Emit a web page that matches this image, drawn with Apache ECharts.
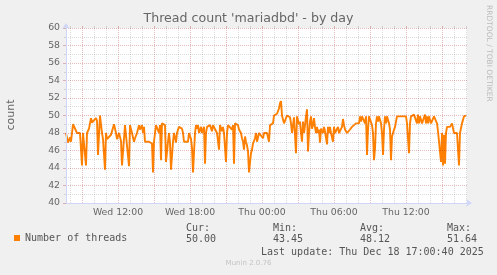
<!DOCTYPE html>
<html><head><meta charset="utf-8">
<script src="https://cdn.jsdelivr.net/npm/echarts@6/dist/echarts.min.js"></script>
<style>html,body{margin:0;padding:0;background:#f0f0f0;}#c{width:497px;height:275px;}</style>
</head><body><div id="c"></div>
<script>
const chartTitle = "Thread count 'mariadbd' - by day";
const yName = 'count';
const seriesName = 'Number of threads';
const startMinute = 460;   // Wed 07:40 as minutes after Wed 00:00
const stepMinutes = 5;     // munin sample step
const sampleSteps = [0,1,2,4,5,7,9,11,14,15,16,17,20,21,23,25,26,28,30,31,32,34,35,36,37,39,40,41,43,45,48,50,51,53,55,56,58,59,61,63,64,66,68,69,71,73,74,76,77,78,79,81,83,84,86,87,88,89,90,92,93,94,95,96,98,99,100,102,103,104,105,107,108,110,111,113,114,116,117,118,122,123,125,126,127,129,130,131,132,133,135,136,137,138,139,140,141,142,144,146,147,148,149,151,152,153,154,155,156,157,158,160,161,162,164,166,167,168,169,171,172,173,175,176,177,178,179,180,181,182,183,184,185,186,187,188,189,190,191,193,194,195,197,198,199,200,201,203,204,205,207,208,210,211,213,214,215,216,217,218,219,221,222,224,225,226,227,228,229,230,231,233,234,235,236,237,238,239,240,241,242,243,244,245,246,247,248,249,250,251,252,253,254,255,256,257,258,259,261,262,263,264,265,266,267,268,269,271,272,273,274,275,276,277,278,279,281,283,284,286,287,288,290,291,293,294,295,296,298,299,300,301,302,303,305,306,307,308,309,310,311,312,313,315,316,317,318,319,320,321,322,323,324,325,326,327,328,329,331,332,334,335,337,338,340,341,342,343,344,345,346,348,349,351,352,353,354,356,358,359,360,361,362,363,364,365,367,368,369,370,371,372,373,374,375,376,377,378,379,380,381,383,384,386,388,389,391,392,393,394,395,396,398,399,400];
const threadValues = [48.0,48.0,46.9,47.5,47.0,49.0,49.0,48.0,48.0,48.0,44.3,48.0,44.3,48.0,48.5,49.7,49.2,49.3,49.7,49.4,45.5,50.0,50.1,48.0,47.3,43.8,48.0,47.3,47.3,47.8,49.0,48.0,47.3,48.0,47.1,44.3,44.3,48.9,48.9,44.2,48.9,48.0,47.0,47.4,48.0,48.9,48.4,48.9,48.0,48.7,47.0,47.2,47.0,46.9,46.8,43.5,47.0,48.0,48.9,49.0,48.0,48.9,44.9,49.1,49.1,48.9,44.7,47.0,48.0,46.9,43.8,47.0,48.0,46.9,48.0,48.7,48.5,48.5,48.0,47.0,47.0,48.0,47.3,46.3,43.5,48.0,48.9,48.5,48.9,48.0,48.7,48.0,48.0,48.7,44.5,48.0,48.7,48.5,48.9,48.2,48.9,48.7,49.1,48.0,48.0,46.1,48.9,49.1,48.2,48.7,48.0,44.7,48.0,48.9,49.1,48.4,48.9,44.5,49.1,49.1,48.9,48.4,48.0,47.4,47.0,46.1,47.6,47.0,46.6,45.9,43.5,43.5,45.7,46.1,46.8,47.0,47.4,48.0,47.0,48.0,47.8,48.0,47.4,48.0,48.0,47.8,48.0,47.0,48.9,49.1,49.1,50.0,50.0,50.2,50.8,51.4,51.64,50.0,50.0,49.1,49.1,50.0,50.0,49.8,49.1,48.0,48.0,49.8,49.8,45.7,49.9,49.0,49.3,48.0,47.0,49.3,48.0,48.9,49.9,50.7,45.9,48.0,49.3,49.9,48.5,48.9,49.7,48.7,48.0,48.7,48.0,48.4,46.9,48.5,48.7,48.0,48.7,48.2,46.7,48.7,48.0,48.7,48.0,48.0,47.0,48.7,48.0,48.2,48.7,48.0,48.0,48.2,48.7,49.6,48.9,48.4,48.0,48.0,48.4,48.7,48.7,48.5,49.1,49.1,49.1,49.9,49.3,49.9,49.9,49.1,49.9,45.5,48.4,49.9,49.9,48.9,48.0,44.9,46.2,49.1,49.9,49.3,49.9,49.1,48.0,45.5,48.4,49.9,49.1,49.9,49.5,49.1,48.4,44.9,47.6,48.0,48.0,48.7,49.9,49.9,49.9,50.1,49.9,50.1,49.9,49.1,48.9,45.7,49.1,49.9,49.9,50.1,49.9,49.1,50.1,49.1,49.9,49.1,49.1,50.1,49.1,49.9,49.1,49.9,50.1,49.1,49.1,49.9,50.1,49.9,49.1,48.2,48.0,48.0,44.7,48.0,44.3,47.8,44.5,48.0,48.7,48.9,48.7,49.1,48.0,48.0,48.0,47.8,44.3,48.0,48.0,49.1,49.9,50.1,50.0];
const xTickMinutes = [720, 1080, 1440, 1800, 2160];
const xTickLabels = ['Wed 12:00', 'Wed 18:00', 'Thu 00:00', 'Thu 06:00', 'Thu 12:00'];
const yMin = 40, yMax = 60, yStep = 2;
const statLabels = ['Cur:', 'Min:', 'Avg:', 'Max:'];
const statValues = ['50.00', '43.45', '48.12', '51.64'];
const lastUpdate = 'Last update: Thu Dec 18 17:00:40 2025';
const footerText = 'Munin 2.0.76';
const sideText = 'RRDTOOL / TOBI OETIKER';

const xMin = startMinute, xMax = startMinute + 401 * stepMinutes;
const hourTicks = [], majorTicks = [];
for (let m = Math.ceil(xMin / 60) * 60; m <= xMax; m += 60) {
  (m % 180 === 0 ? majorTicks : hourTicks).push(m);
}
const data = sampleSteps.map((s, i) => [startMinute + s * stepMinutes, threadValues[i]]);

const GRID = 'rgba(140,140,140,0.3)';
const MGRID = 'rgba(170,30,30,0.3)';
const AXIS = '#cfd6f8';
const FONT = '#666';
const sans = 'DejaVu Sans';
const mono = 'DejaVu Sans Mono';

function hiddenX(ticks, color) {
  return {
    type: 'value', min: xMin, max: xMax,
    axisLine: {show: false},
    axisLabel: {show: false},
    axisTick: {show: true, customValues: ticks, length: 2, lineStyle: {color: color}},
    splitLine: {show: true, lineStyle: {color: color, width: 1, type: [1, 1]}}
  };
}

const statGraphics = [];
const statX = [186, 273, 360, 447];
statLabels.forEach((t, i) => {
  statGraphics.push({type: 'text', x: statX[i], y: 228, style: {text: t, font: '10px ' + mono, fill: '#555', textVerticalAlign: 'middle'}});
  statGraphics.push({type: 'text', x: statX[i], y: 239.5, style: {text: statValues[i], font: '10px ' + mono, fill: '#555', textVerticalAlign: 'middle'}});
});

const chart = echarts.init(document.getElementById('c'), null, {renderer: 'canvas'});
chart.setOption({
  backgroundColor: '#f0f0f0',
  animation: false,
  title: {text: chartTitle, left: 'center', top: 12, padding: 0,
    textStyle: {fontFamily: sans, fontSize: 12.6, fontWeight: 'normal', color: FONT}},
  legend: {left: 14, top: 233, padding: 0, icon: 'rect', itemWidth: 6, itemHeight: 6,
    data: [seriesName], textStyle: {fontFamily: mono, fontSize: 10, color: '#555'}},
  grid: {left: 66, top: 28, width: 401, height: 175, show: true, backgroundColor: '#fff', borderWidth: 0},
  xAxis: [
    {
      type: 'value', min: xMin, max: xMax, z: 5,
      axisLine: {show: true, lineStyle: {color: AXIS, width: 1}, symbol: ['none', 'arrow'], symbolSize: [6, 6], symbolOffset: [0, 5]},
      axisTick: {show: false, customValues: xTickMinutes},
      axisLabel: {customValues: xTickMinutes, margin: 5, fontFamily: sans, fontSize: 9.33, color: FONT,
        formatter: v => xTickLabels[xTickMinutes.indexOf(v)]},
      splitLine: {show: false}
    },
    hiddenX(hourTicks, GRID),
    hiddenX(majorTicks, MGRID)
  ],
  yAxis: {
    type: 'value', min: yMin, max: yMax, interval: yStep, z: 5,
    axisLine: {show: true, lineStyle: {color: AXIS, width: 1}, symbol: ['none', 'arrow'], symbolSize: [6, 6], symbolOffset: [0, 5]},
    axisTick: {show: true, length: 3, lineStyle: {color: MGRID}},
    minorTick: {show: true, splitNumber: 2, length: 2, lineStyle: {color: GRID}},
    axisLabel: {margin: 6, fontFamily: sans, fontSize: 9.33, color: FONT},
    splitLine: {show: true, lineStyle: {color: MGRID, width: 1, type: [1, 1]}},
    minorSplitLine: {show: true, lineStyle: {color: GRID, width: 1, type: [1, 1]}}
  },
  graphic: [
    {type: 'text', x: 11, y: 115, rotation: Math.PI / 2,
      style: {text: yName, font: '11px ' + sans, fill: FONT, textAlign: 'center', textVerticalAlign: 'middle'}},
    {type: 'text', x: 489, y: 5, rotation: -Math.PI / 2,
      style: {text: sideText, font: '7.5px ' + sans, fill: '#bbb', textAlign: 'left', textVerticalAlign: 'middle'}},
    {type: 'text', x: 261, y: 252, style: {text: lastUpdate, font: '10px ' + mono, fill: '#555', textVerticalAlign: 'middle'}},
    {type: 'text', x: 248.5, y: 263.5, style: {text: footerText, font: '7px ' + sans, fill: '#c4c4c4', textAlign: 'center', textVerticalAlign: 'middle'}}
  ].concat(statGraphics),
  series: [{
    name: seriesName, type: 'line', xAxisIndex: 0, yAxisIndex: 0, data: data,
    symbol: 'none', color: '#ff8000', lineStyle: {color: '#ff8000', width: 1.9}, z: 3
  }]
});
</script></body></html>
